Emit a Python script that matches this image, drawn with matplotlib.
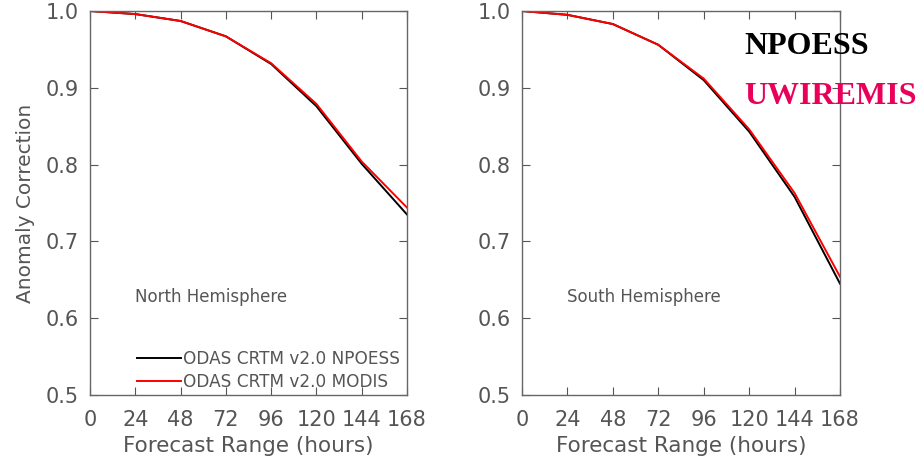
import matplotlib
matplotlib.use("Agg")
import matplotlib.pyplot as plt

hours = [0, 24, 48, 72, 96, 120, 144, 168]
nh_npoess = [1.000, 0.996, 0.987, 0.967, 0.931, 0.876, 0.801, 0.735]
nh_modis = [1.000, 0.996, 0.987, 0.967, 0.932, 0.879, 0.804, 0.744]
sh_npoess = [1.000, 0.995, 0.983, 0.956, 0.910, 0.843, 0.758, 0.645]
sh_modis = [1.000, 0.995, 0.983, 0.956, 0.912, 0.846, 0.763, 0.654]
y_ticks = [0.5, 0.6, 0.7, 0.8, 0.9, 1.0]
legend_labels = ["ODAS CRTM v2.0 NPOESS", "ODAS CRTM v2.0 MODIS"]

GREY = "#555555"

fig = plt.figure(figsize=(9.17, 4.58), dpi=100)
ax_n = fig.add_axes([90 / 917, 1 - 395 / 458, 317 / 917, 384 / 458])
ax_s = fig.add_axes([522 / 917, 1 - 395 / 458, 318 / 917, 384 / 458])

panels = [
    (ax_n, nh_npoess, nh_modis, "North Hemisphere"),
    (ax_s, sh_npoess, sh_modis, "South Hemisphere"),
]
for ax, black, red, name in panels:
    ax.plot(hours, black, color="black", linewidth=1.4, label=legend_labels[0])
    ax.plot(hours, red, color="red", linewidth=1.4, label=legend_labels[1])
    ax.set_xlim(0, 168)
    ax.set_ylim(0.5, 1.0)
    ax.set_xticks(hours)
    ax.set_yticks(y_ticks)
    ax.set_yticklabels([f"{v:.1f}" for v in y_ticks])
    ax.tick_params(direction="in", length=6, width=0.8, top=True, right=True,
                   labelsize=15, colors=GREY)
    ax.tick_params(axis="x", pad=11)
    ax.tick_params(axis="y", pad=8)
    for sp in ax.spines.values():
        sp.set_color("#666666")
        sp.set_linewidth(1.0)
    ax.set_xlabel("Forecast Range (hours)", fontsize=15.5, color=GREY, labelpad=4)
    ax.text(0.142, 0.255, name, transform=ax.transAxes, fontsize=12, color=GREY,
            va="center")

ax_n.set_ylabel("Anomaly Correction", fontsize=14.5, color=GREY, labelpad=8)

leg = ax_n.legend(loc="lower left", bbox_to_anchor=(0.105, -0.024), frameon=False,
                  fontsize=12.2, handlelength=2.6, handletextpad=0.1,
                  labelspacing=0.25, borderpad=0.3)
for t in leg.get_texts():
    t.set_color(GREY)

fig.text(744 / 917, 1 - 47 / 458, "NPOESS", family="Liberation Serif",
         weight="bold", fontsize=23, color="black", va="center", ha="left")
fig.text(744 / 917, 1 - 97 / 458, "UWIREMIS", family="Liberation Serif",
         weight="bold", fontsize=23, color="#e8005a", va="center", ha="left")

fig.savefig("out.png", dpi=100, facecolor="white")
